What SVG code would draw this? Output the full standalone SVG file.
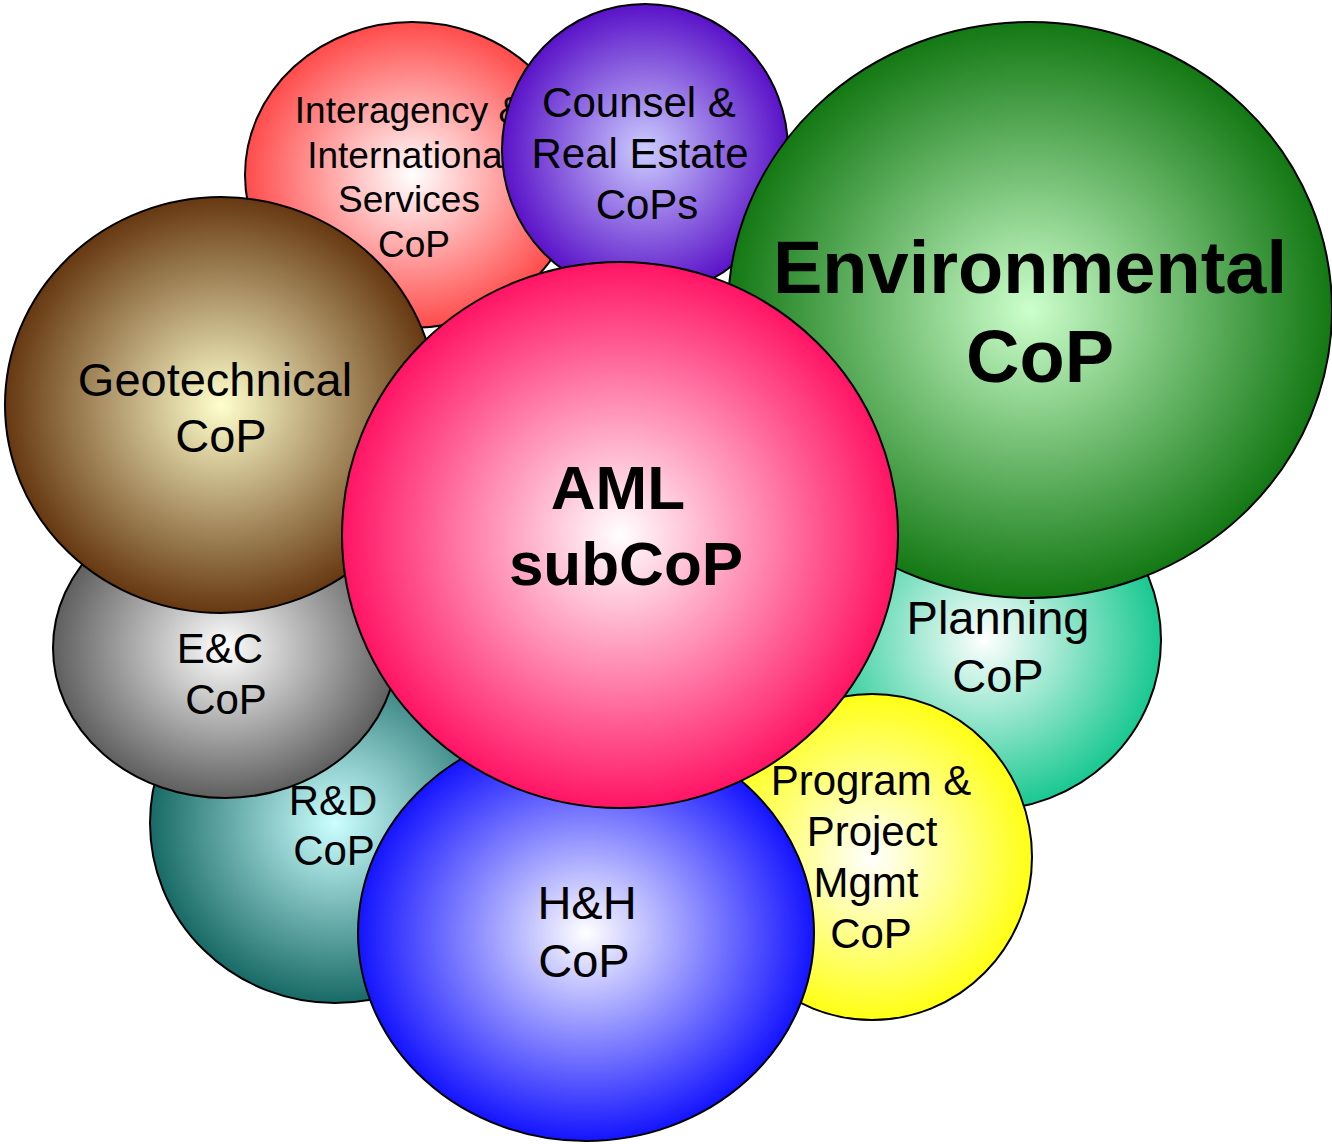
<svg xmlns="http://www.w3.org/2000/svg" width="1332" height="1144" viewBox="0 0 1332 1144">
<defs>
<radialGradient id="gInter"><stop offset="0" stop-color="#FFFFFF"/><stop offset="1" stop-color="#FF4B4B"/></radialGradient>
<radialGradient id="gCounsel"><stop offset="0" stop-color="#CCCCFF"/><stop offset="1" stop-color="#5A12C8"/></radialGradient>
<radialGradient id="gEnv"><stop offset="0" stop-color="#CCFFCC"/><stop offset="1" stop-color="#137813"/></radialGradient>
<radialGradient id="gPlan"><stop offset="0" stop-color="#FFFFFF"/><stop offset="1" stop-color="#19C890"/></radialGradient>
<radialGradient id="gProg"><stop offset="0" stop-color="#FFFFFF"/><stop offset="1" stop-color="#FFFF14"/></radialGradient>
<radialGradient id="gRD"><stop offset="0" stop-color="#CCFFFF"/><stop offset="1" stop-color="#186A66"/></radialGradient>
<radialGradient id="gEC"><stop offset="0" stop-color="#FFFFFF"/><stop offset="1" stop-color="#5F5F5F"/></radialGradient>
<radialGradient id="gGeo"><stop offset="0" stop-color="#FFFFCC"/><stop offset="1" stop-color="#663811"/></radialGradient>
<radialGradient id="gHH"><stop offset="0" stop-color="#FFFFFF"/><stop offset="1" stop-color="#1414FF"/></radialGradient>
<radialGradient id="gAML"><stop offset="0" stop-color="#FFFFFF"/><stop offset="1" stop-color="#FF1464"/></radialGradient>
</defs>
<style>
.b{stroke:#000;stroke-width:2}
text{font-family:"Liberation Sans",Arial,sans-serif;fill:#000;text-anchor:middle}
.bold{font-weight:bold}
</style>
<rect width="1332" height="1144" fill="#FFFFFF"/>
<g id="connectors"/>
<g id="node-interagency">
<ellipse class="b" cx="412" cy="175" rx="167" ry="153" fill="url(#gInter)"/>
<text font-size="37"><tspan x="409" y="123">Interagency &amp;</tspan><tspan x="409" y="168">International</tspan><tspan x="409" y="212">Services</tspan><tspan x="414" y="257">CoP</tspan></text>
</g>
<g id="node-counsel">
<ellipse class="b" cx="645" cy="150" rx="143" ry="146" fill="url(#gCounsel)"/>
<text font-size="42"><tspan x="639" y="117">Counsel &amp;</tspan><tspan x="640" y="168">Real Estate</tspan><tspan x="647" y="219">CoPs</tspan></text>
</g>
<g id="node-planning">
<ellipse class="b" cx="985" cy="640" rx="176" ry="170" fill="url(#gPlan)"/>
<text font-size="47"><tspan x="998" y="634">Planning</tspan><tspan x="998" y="692">CoP</tspan></text>
</g>
<g id="node-environmental">
<ellipse class="b" cx="1030" cy="310" rx="302" ry="288" fill="url(#gEnv)"/>
<text class="bold" font-size="74"><tspan x="1030" y="293">Environmental</tspan><tspan x="1040" y="382">CoP</tspan></text>
</g>
<g id="node-program">
<ellipse class="b" cx="872" cy="857" rx="160" ry="163" fill="url(#gProg)"/>
<text font-size="42"><tspan x="871" y="795">Program &amp;</tspan><tspan x="872" y="846">Project</tspan><tspan x="866" y="897">Mgmt</tspan><tspan x="871" y="948">CoP</tspan></text>
</g>
<g id="node-rd">
<ellipse class="b" cx="335" cy="823" rx="185" ry="180" fill="url(#gRD)"/>
<text font-size="42"><tspan x="333" y="815">R&amp;D</tspan><tspan x="334" y="865">CoP</tspan></text>
</g>
<g id="node-ec">
<ellipse class="b" cx="225" cy="648" rx="172" ry="150" fill="url(#gEC)"/>
<text font-size="42"><tspan x="220" y="663">E&amp;C</tspan><tspan x="226" y="714">CoP</tspan></text>
</g>
<g id="node-geotechnical">
<ellipse class="b" cx="221" cy="405" rx="216" ry="208" fill="url(#gGeo)"/>
<text font-size="47"><tspan x="215" y="396">Geotechnical</tspan><tspan x="221" y="452">CoP</tspan></text>
</g>
<g id="node-hh">
<ellipse class="b" cx="586" cy="933" rx="228" ry="208" fill="url(#gHH)"/>
<text font-size="47"><tspan x="587" y="919">H&amp;H</tspan><tspan x="584" y="977">CoP</tspan></text>
</g>
<g id="node-aml">
<ellipse class="b" cx="620" cy="535" rx="278" ry="273" fill="url(#gAML)"/>
<text class="bold" font-size="62"><tspan x="618" y="509">AML</tspan><tspan x="626" y="585">subCoP</tspan></text>
</g>
</svg>
